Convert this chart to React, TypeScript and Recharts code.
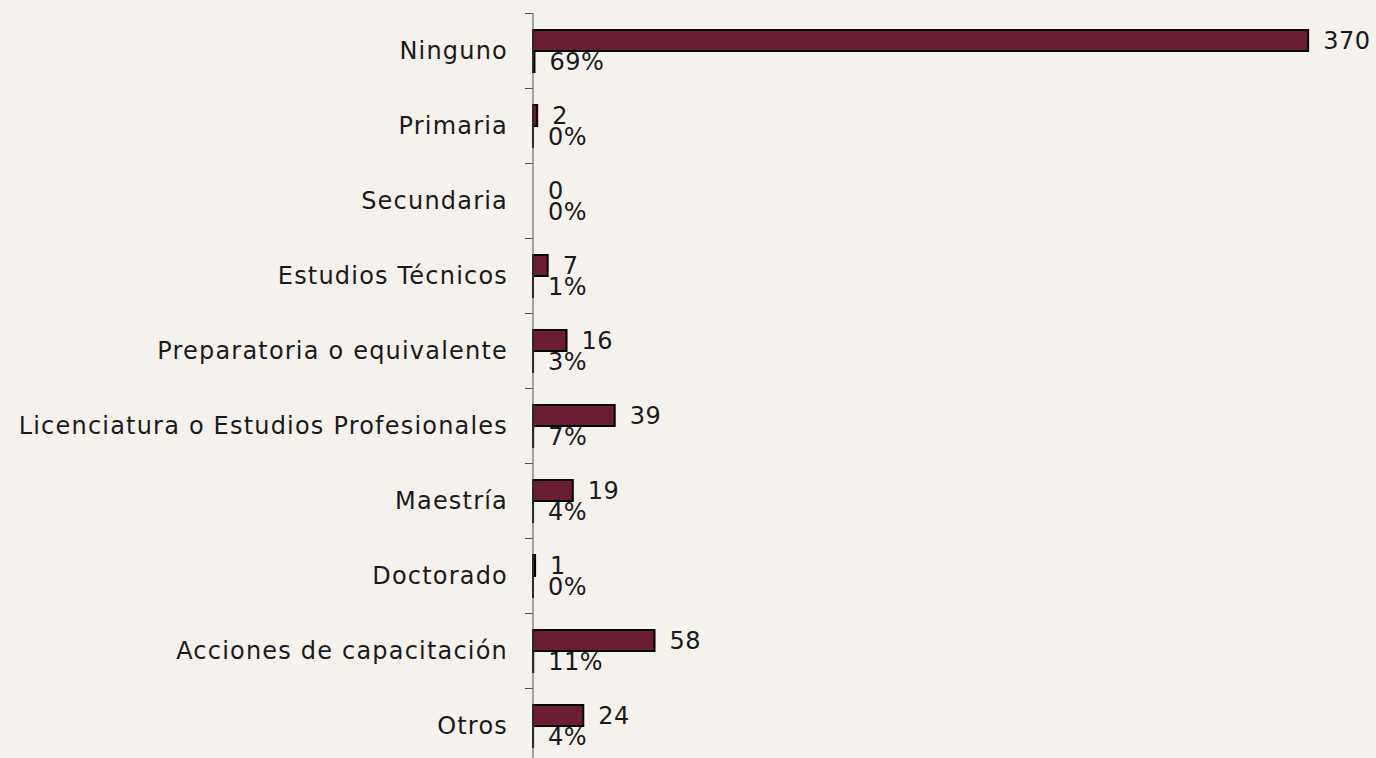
import { Bar, BarChart, Cell, LabelList, XAxis, YAxis } from 'recharts'

const categories = [
  'Ninguno',
  'Primaria',
  'Secundaria',
  'Estudios Técnicos',
  'Preparatoria o equivalente',
  'Licenciatura o Estudios Profesionales',
  'Maestría',
  'Doctorado',
  'Acciones de capacitación',
  'Otros',
]
const counts = [370, 2, 0, 7, 16, 39, 19, 1, 58, 24]
const shares = [0.69, 0.0037, 0, 0.013, 0.03, 0.073, 0.0354, 0.0019, 0.108, 0.0448]

const data = categories.map((name, i) => ({ name, count: counts[i], share: shares[i] }))

const FONT = '"DejaVu Sans", sans-serif'
const TEXT = '#1a1a1a'
const AXIS = '#555'
const FILL = '#6a1d33'

// recharts hands the tick an x already 8px left of the axis line
function CategoryTick(props: any) {
  const { x, y, payload } = props
  const half = payload?.offset || 37.5
  const ty = Math.round(y - half) + 0.5
  return (
    <g>
      <line x1={x} x2={x + 8} y1={ty} y2={ty} stroke={AXIS} strokeWidth={1} />
      <text
        x={x - 17}
        y={y}
        dy="0.35em"
        textAnchor="end"
        fill={TEXT}
        fontSize={24}
        letterSpacing={1.2}
        fontFamily={FONT}
      >
        {payload.value}
      </text>
    </g>
  )
}

export default function App() {
  return (
    <div style={{ width: 1376, height: 758, overflow: 'hidden', background: '#f5f2ee' }}>
      <style>{'body{margin:0}'}</style>
      <BarChart
        width={1376}
        height={764}
        data={data}
        layout="vertical"
        margin={{ top: 13, right: 5, bottom: 1, left: 0 }}
        barGap={0}
        barSize={21}
      >
        <XAxis type="number" domain={[0, 400]} hide />
        <YAxis
          type="category"
          dataKey="name"
          width={533}
          axisLine={{ stroke: AXIS, strokeWidth: 1 }}
          tickLine={false}
          tick={<CategoryTick />}
          interval={0}
        />
        <Bar dataKey="count" fill={FILL} stroke="#000" strokeWidth={2} minPointSize={0.001} isAnimationActive={false}>
          {counts.map((v, i) => (
            <Cell key={i} stroke={v === 0 ? 'none' : '#000'} />
          ))}
          <LabelList
            dataKey="count"
            position="right"
            offset={15}
            fill={TEXT}
            fontSize={24}
            letterSpacing={0.5}
            fontFamily={FONT}
          />
        </Bar>
        <Bar dataKey="share" fill={FILL} stroke="#000" strokeWidth={2} minPointSize={0.001} isAnimationActive={false}>
          {shares.map((v, i) => (
            <Cell key={i} stroke={v === 0 ? 'none' : '#000'} />
          ))}
          <LabelList
            dataKey="share"
            position="right"
            offset={15}
            fill={TEXT}
            fontSize={24}
            letterSpacing={0.5}
            fontFamily={FONT}
            formatter={(v: any) => `${Math.round(Number(v) * 100)}%`}
          />
        </Bar>
      </BarChart>
    </div>
  )
}
